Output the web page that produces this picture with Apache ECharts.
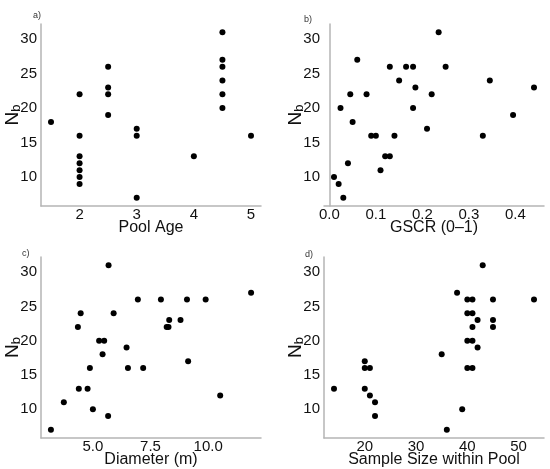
<!DOCTYPE html>
<html>
<head>
<meta charset="utf-8">
<script src="https://cdn.jsdelivr.net/npm/echarts@6/dist/echarts.min.js"></script>
<style>
  html, body { margin: 0; padding: 0; background: #fff; }
  #chart { width: 550px; height: 469px; }
</style>
</head>
<body>
<div id="chart"></div>
<script>
// panel a) pool age vs Nb
var poolAge = [1.5, 2, 2, 2, 2, 2, 2, 2, 2.5, 2.5, 2.5, 2.5, 3, 3, 3, 4, 4.5, 4.5, 4.5, 4.5, 4.5, 4.5, 5];
var nbAge = [18, 22, 16, 13, 12, 11, 10, 9, 26, 23, 22, 19, 17, 16, 7, 13, 31, 27, 26, 24, 22, 20, 16];

// panel b) GSCR vs Nb
var gscr = [0.01, 0.02, 0.03, 0.024, 0.04, 0.045, 0.05, 0.06, 0.08, 0.09, 0.10, 0.11, 0.12, 0.13, 0.13,
  0.14, 0.15, 0.165, 0.18, 0.18, 0.185, 0.21, 0.22, 0.235, 0.25, 0.33, 0.345, 0.395, 0.44];
var nbGscr = [10, 9, 7, 20, 12, 22, 18, 27, 22, 16, 16, 11, 13, 13, 26,
  16, 24, 26, 26, 20, 23, 17, 22, 31, 26, 16, 24, 19, 23];

// panel c) diameter vs Nb
var diameter = [3.18, 3.74, 4.35, 4.47, 4.39, 4.77, 4.87, 5.0, 5.27, 5.49, 5.42, 5.68, 5.66, 5.9,
  6.46, 6.52, 6.95, 7.18, 7.95, 8.2, 8.28, 8.31, 8.8, 9.08, 9.13, 9.89, 10.52, 11.86];
var nbDiameter = [7, 11, 22, 24, 13, 13, 16, 10, 20, 20, 18, 31, 9, 24,
  19, 16, 26, 16, 26, 22, 22, 23, 23, 26, 17, 26, 12, 27];

// panel d) sample size vs Nb
var sampleSize = [14, 20, 20, 21, 20, 21, 22, 22, 35, 36, 38, 39, 40, 41, 40, 41, 42, 41, 40, 41,
  42, 40, 41, 43, 45, 45, 45, 53];
var nbSample = [13, 17, 16, 16, 13, 12, 11, 9, 18, 7, 27, 10, 26, 26, 24, 24, 23, 22, 20, 20,
  19, 16, 16, 31, 26, 23, 22, 26];

// tick labels
var yTicks = [10, 15, 20, 25, 30];
var ageTicks = [2, 3, 4, 5];
var gscrTicks = ['0.0', '0.1', '0.2', '0.3', '0.4'];
var diameterTicks = ['5.0', '7.5', '10.0'];
var sampleTicks = [20, 30, 40, 50];

var xNames = ['Pool Age', 'GSCR (0\u20131)', 'Diameter (m)', 'Sample Size within Pool'];
var panelTags = ['a)', 'b)', 'c)', 'd)'];

var myChart = echarts.init(document.getElementById('chart'));
var font = 'Liberation Sans, Arial, sans-serif';
var axisColor = '#b5b5b5';

var grids = [
  { left: 41, top: 24, width: 220, height: 182 },
  { left: 324, top: 24, width: 220, height: 182 },
  { left: 41, top: 257, width: 220, height: 181 },
  { left: 324, top: 257, width: 220, height: 181 }
];
var xRanges = [[1.325, 5.175], [-0.0115, 0.4615], [2.75, 12.29], [12.05, 54.95]];
var xTickVals = [ageTicks, gscrTicks, diameterTicks, sampleTicks];
var xs = [poolAge, gscr, diameter, sampleSize];
var ys = [nbAge, nbGscr, nbDiameter, nbSample];

function pairs(a, b) {
  return a.map(function (v, i) { return [v, b[i]]; });
}

var xAxis = [], yAxis = [], series = [], titles = [];
for (var i = 0; i < 4; i++) {
  var ticks = xTickVals[i];
  xAxis.push({
    gridIndex: i,
    type: 'value',
    min: xRanges[i][0],
    max: xRanges[i][1],
    name: xNames[i],
    nameLocation: 'middle',
    nameGap: 14,
    nameMoveOverlap: false,
    nameTextStyle: { fontFamily: font, fontSize: 16, color: '#111' },
    axisLine: { show: true, lineStyle: { color: axisColor, width: 1.5 } },
    axisTick: { show: false },
    splitLine: { show: false },
    axisLabel: {
      customValues: ticks.map(Number),
      formatter: (function (t) {
        return function (v) {
          for (var k = 0; k < t.length; k++) {
            if (Math.abs(Number(t[k]) - v) < 1e-9) return String(t[k]);
          }
          return '';
        };
      })(ticks),
      margin: 1,
      fontFamily: font,
      fontSize: 15,
      color: '#111'
    }
  });
  yAxis.push({
    gridIndex: i,
    type: 'value',
    min: 5.8,
    max: 32.2,
    name: 'N{sub|b}',
    nameLocation: 'middle',
    nameRotate: 90,
    nameGap: 18,
    nameMoveOverlap: false,
    nameTextStyle: {
      fontFamily: font, fontSize: 19, color: '#111',
      rich: {
        sub: { fontFamily: font, fontSize: 13, color: '#111', verticalAlign: 'bottom', padding: [7, 0, 0, 0] }
      }
    },
    axisLine: { show: true, lineStyle: { color: axisColor, width: 1.5 } },
    axisTick: { show: false },
    splitLine: { show: false },
    axisLabel: {
      customValues: yTicks,
      margin: 4,
      fontFamily: font,
      fontSize: 15,
      color: '#111'
    }
  });
  series.push({
    type: 'scatter',
    xAxisIndex: i,
    yAxisIndex: i,
    symbolSize: 6,
    itemStyle: { color: '#000', opacity: 1 },
    data: pairs(xs[i], ys[i])
  });
}

var tagPos = [[28, 6], [299, 10], [17, 244], [300, 245]];
for (var j = 0; j < 4; j++) {
  titles.push({
    text: panelTags[j],
    left: tagPos[j][0],
    top: tagPos[j][1],
    textStyle: { fontFamily: font, fontSize: 9, fontWeight: 'normal', color: '#333' }
  });
}

var option = {
  animation: false,
  backgroundColor: '#fff',
  title: titles,
  grid: grids,
  xAxis: xAxis,
  yAxis: yAxis,
  series: series
};
myChart.setOption(option);
</script>
</body>
</html>
